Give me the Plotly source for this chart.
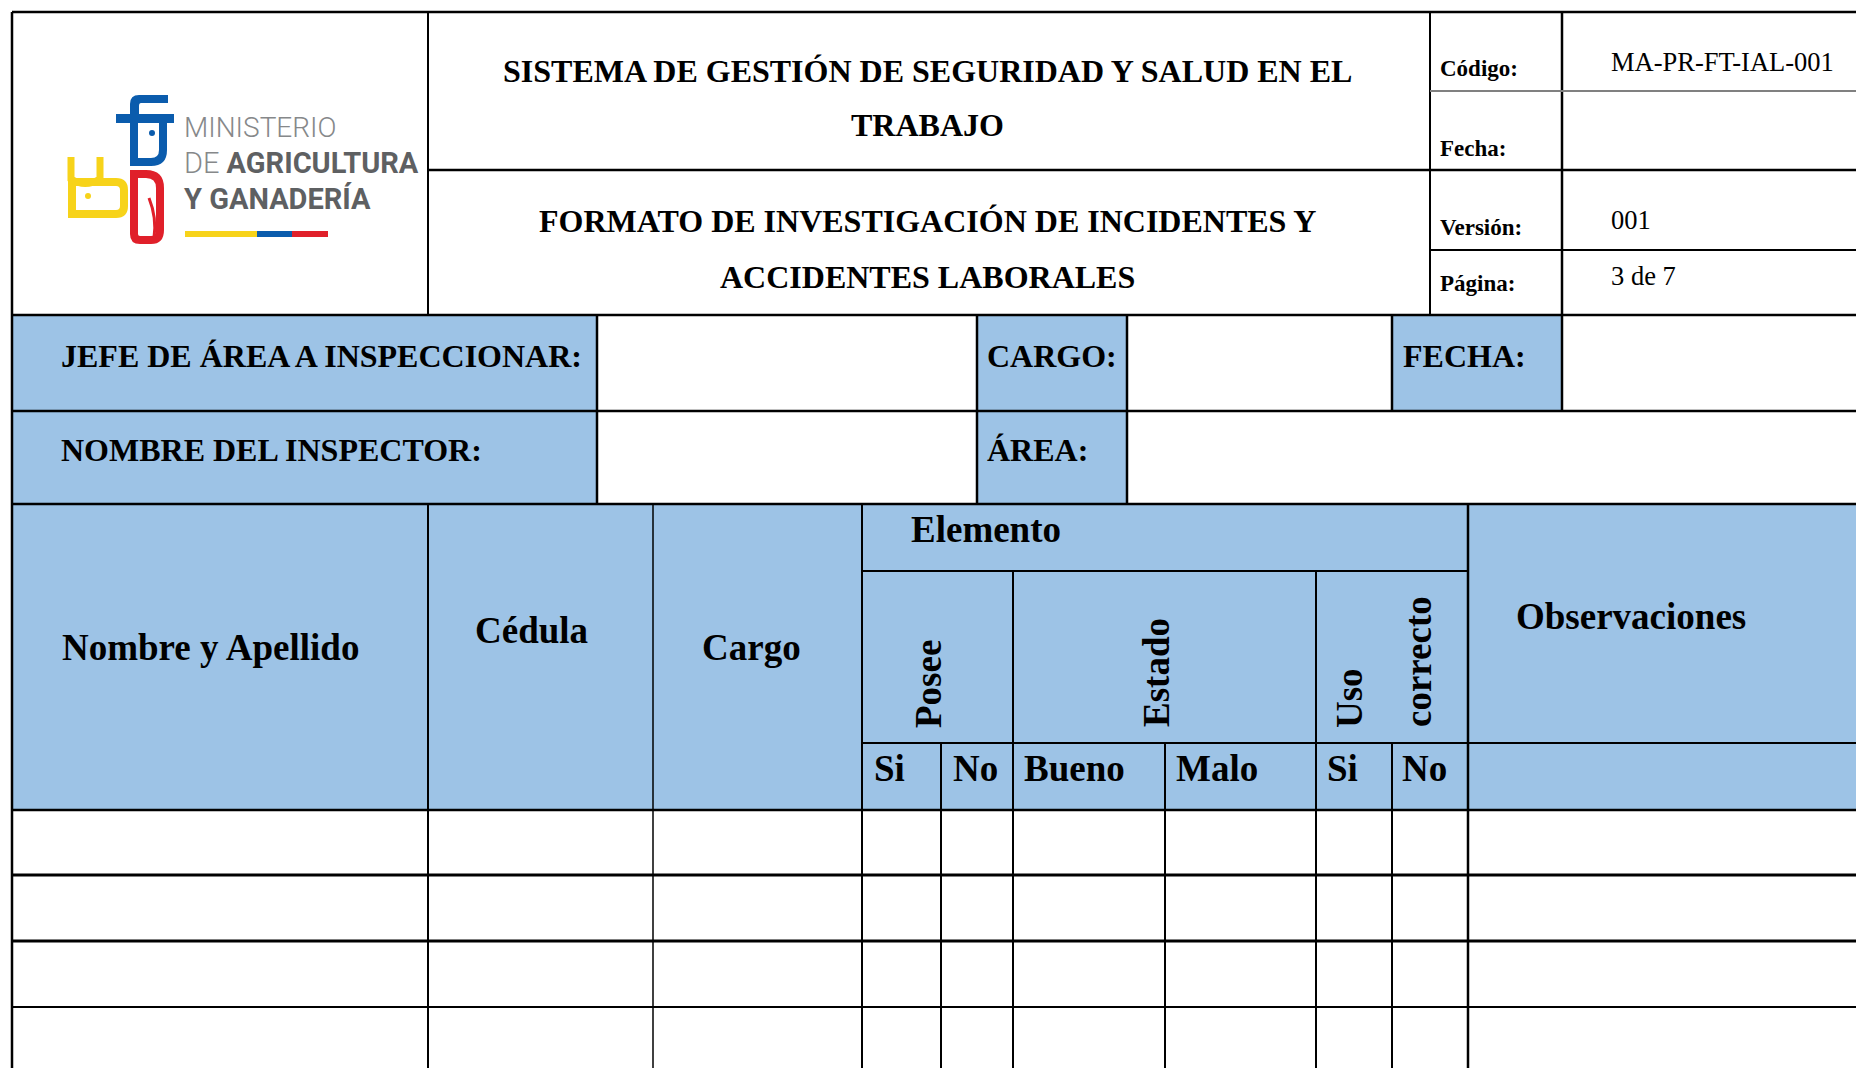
import plotly.graph_objects as go

# ---------------- content (text of the form) ----------------
header_title_lines = ["SISTEMA DE GESTIÓN DE SEGURIDAD Y SALUD EN EL", "TRABAJO"]
format_title_lines = ["FORMATO DE INVESTIGACIÓN DE INCIDENTES Y", "ACCIDENTES LABORALES"]
doc_meta_labels = ["Código:", "Fecha:", "Versión:", "Página:"]
doc_meta_values = ["MA-PR-FT-IAL-001", "", "001", "3 de 7"]
info_labels_row1 = ["JEFE DE ÁREA A INSPECCIONAR:", "CARGO:", "FECHA:"]
info_labels_row2 = ["NOMBRE DEL INSPECTOR:", "ÁREA:"]
table_headers = ["Nombre y Apellido", "Cédula", "Cargo", "Observaciones"]
element_group = "Elemento"
element_subgroups = ["Posee", "Estado", "Uso", "correcto"]
element_options = ["Si", "No", "Bueno", "Malo", "Si", "No"]
logo_lines = ["MINISTERIO", "DE", "AGRICULTURA", "Y GANADERÍA"]

# ---------------- styling ----------------
W, H = 1856, 1068
BLUE_FILL = "#9DC3E6"
BLACK = "#000000"
SERIF = "Liberation Serif, Times New Roman, serif"
LOGO_FONT = "Roboto, Arial, sans-serif"
LOGO_BLUE = "#0B5CAD"
LOGO_RED = "#E0202A"
LOGO_YELLOW = "#F7D31A"
LOGO_GRAY_L = "#86888A"
LOGO_GRAY_D = "#5E6062"

fig = go.Figure()
fig.add_trace(go.Scatter(x=[], y=[], mode="markers", showlegend=False, hoverinfo="skip"))

shapes = []
annotations = []


def rect(x0, y0, x1, y1, color, layer="below"):
    shapes.append(dict(type="rect", xref="x", yref="y", x0=x0, y0=y0, x1=x1, y1=y1,
                       fillcolor=color, line=dict(width=0), layer=layer))


def line(x0, y0, x1, y1, w=2.0, color=BLACK):
    shapes.append(dict(type="line", xref="x", yref="y", x0=x0, y0=y0, x1=x1, y1=y1,
                       line=dict(color=color, width=w), layer="above"))


def path(d, fill=None, stroke=None, w=0):
    shapes.append(dict(type="path", xref="x", yref="y", path=d,
                       fillcolor=fill if fill else "rgba(0,0,0,0)",
                       line=dict(color=stroke if stroke else "rgba(0,0,0,0)", width=w),
                       layer="above"))


def dot(cx, cy, r, color):
    shapes.append(dict(type="circle", xref="x", yref="y", x0=cx - r, y0=cy - r, x1=cx + r, y1=cy + r,
                       fillcolor=color, line=dict(width=0), layer="above"))


def text(x, y, s, size, bold=True, xanchor="left", angle=0, color=BLACK, family=SERIF, weight=None):
    f = dict(family=family, size=size, color=color)
    if weight is not None:
        f["weight"] = weight
    annotations.append(dict(x=x, y=y, xref="x", yref="y", text=("<b>%s</b>" % s) if bold else s,
                            showarrow=False, xanchor=xanchor, yanchor="middle", textangle=angle,
                            font=f, borderpad=0))


# ---------------- blue fills ----------------
rect(12, 315, 597, 504, BLUE_FILL)
rect(977, 315, 1127, 504, BLUE_FILL)
rect(1392, 315, 1562, 411, BLUE_FILL)
rect(12, 504, W + 5, 810, BLUE_FILL)

# ---------------- grid lines ----------------
# header block
line(12, 12, W + 5, 12, 2.5)
line(12, 12, 12, H + 5, 2.5)
line(428, 12, 428, 315, 2)
line(428, 170, W + 5, 170, 2.5)
line(1430, 12, 1430, 315, 2)
line(1562, 12, 1562, 315, 2.5)
line(1430, 91, W + 5, 91, 2, "#808080")
line(1430, 250, W + 5, 250, 2)
line(12, 315, W + 5, 315, 2.5)
# info rows
for xv in (597, 977, 1127):
    line(xv, 315, xv, 504, 2.5)
line(1392, 315, 1392, 411, 2.5)
line(1562, 315, 1562, 411, 2.5)
line(12, 411, W + 5, 411, 2.5)
line(12, 504, W + 5, 504, 2.5)
# table
line(428, 504, 428, H + 5, 2)
line(653, 504, 653, H + 5, 1.5)
line(862, 504, 862, H + 5, 2)
line(1468, 504, 1468, H + 5, 2.5)
line(862, 571, 1468, 571, 2)
line(1013, 571, 1013, H + 5, 2)
line(1316, 571, 1316, H + 5, 2)
line(862, 743, W + 5, 743, 2)
for xv in (941, 1165, 1392):
    line(xv, 743, xv, H + 5, 2)
line(12, 810, W + 5, 810, 2.5)
line(12, 875, W + 5, 875, 3)
line(12, 941, W + 5, 941, 3)
line(12, 1007, W + 5, 1007, 2)

# ---------------- logo ----------------
# farmer (blue): hat crown, brim, face, eye
path("M 130 115 L 130 104 Q 130 95 139 95 L 168 95 L 168 103 L 141 103 Q 139 103 139 106 L 139 115 Z",
     fill=LOGO_BLUE)
rect(116, 114, 174, 123, LOGO_BLUE, layer="above")
path("M 134 123 L 134 162 L 151 162 Q 163 162 163 150 L 163 123", fill="white", stroke=LOGO_BLUE, w=8)
dot(152, 133, 3, LOGO_BLUE)
# leaf (red)
path("M 134 174 L 134 234 Q 134 240 140 240 L 151 240 Q 160 240 160 230 L 160 188 Q 160 174 146 174 Z",
     fill="white", stroke=LOGO_RED, w=8)
path("M 149 198 Q 157 218 154 238", stroke=LOGO_RED, w=3)
# bull (yellow)
path("M 72 182 L 72 214 L 116 214 Q 124 214 124 206 L 124 190 Q 124 182 116 182 Z",
     fill="white", stroke=LOGO_YELLOW, w=8)
path("M 71 157 L 71 179 Q 85 188 100 179 L 100 157", stroke=LOGO_YELLOW, w=7)
dot(88, 196, 3, LOGO_YELLOW)
# flag bar
rect(185, 231, 257, 237, LOGO_YELLOW, layer="above")
rect(257, 231, 292, 237, LOGO_BLUE, layer="above")
rect(292, 231, 328, 237, LOGO_RED, layer="above")
# logo words
text(183, 127, logo_lines[0], 28, bold=False, color=LOGO_GRAY_L, family=LOGO_FONT, weight=300)
annotations.append(dict(x=183, y=163, xref="x", yref="y",
                        text="<span style='color:%s;font-weight:300'>%s </span><b>%s</b>" % (LOGO_GRAY_L, logo_lines[1], logo_lines[2]),
                        showarrow=False, xanchor="left", yanchor="middle", borderpad=0,
                        font=dict(family=LOGO_FONT, size=29, color=LOGO_GRAY_D)))
text(183, 199, logo_lines[3], 29, bold=True, color=LOGO_GRAY_D, family=LOGO_FONT)

# ---------------- header titles ----------------
text(927, 71, header_title_lines[0], 32, xanchor="center")
text(927, 125, header_title_lines[1], 32, xanchor="center")
text(927, 221, format_title_lines[0], 32, xanchor="center")
text(927, 277, format_title_lines[1], 32, xanchor="center")

meta_label_y = [68, 148, 227, 283]
meta_value_y = [62, 148, 220, 276]
for lab, val, ly, vy in zip(doc_meta_labels, doc_meta_values, meta_label_y, meta_value_y):
    text(1439, ly, lab, 23)
    if val:
        text(1610, vy, val, 26.5, bold=False)

# ---------------- info rows ----------------
text(60, 356, info_labels_row1[0], 32)
text(986, 356, info_labels_row1[1], 32)
text(1402, 356, info_labels_row1[2], 32)
text(60, 450, info_labels_row2[0], 32)
text(986, 450, info_labels_row2[1], 32)

# ---------------- table header ----------------
text(61, 647, table_headers[0], 37)
text(531, 630, table_headers[1], 37, xanchor="center")
text(751, 647, table_headers[2], 37, xanchor="center")
text(1515, 616, table_headers[3], 37)
text(910, 529, element_group, 37)

sub_x = [928, 1156, 1349, 1418]
sub_y = [684, 673, 698, 662]
for s, sx, sy in zip(element_subgroups, sub_x, sub_y):
    text(sx, sy, s, 37, xanchor="center", angle=-90)

opt_x = [873, 952, 1023, 1175, 1326, 1401]
for s, ox in zip(element_options, opt_x):
    text(ox, 768, s, 37)

fig.update_layout(
    width=W, height=H,
    margin=dict(l=0, r=0, t=0, b=0),
    paper_bgcolor="white", plot_bgcolor="white",
    xaxis=dict(range=[0, W], visible=False, fixedrange=True),
    yaxis=dict(range=[H, 0], visible=False, fixedrange=True),
    shapes=shapes, annotations=annotations, showlegend=False,
)

fig.write_html("out.html", config={"displayModeBar": False},
               post_script="document.body.style.margin='0';document.body.style.overflow='hidden';")
